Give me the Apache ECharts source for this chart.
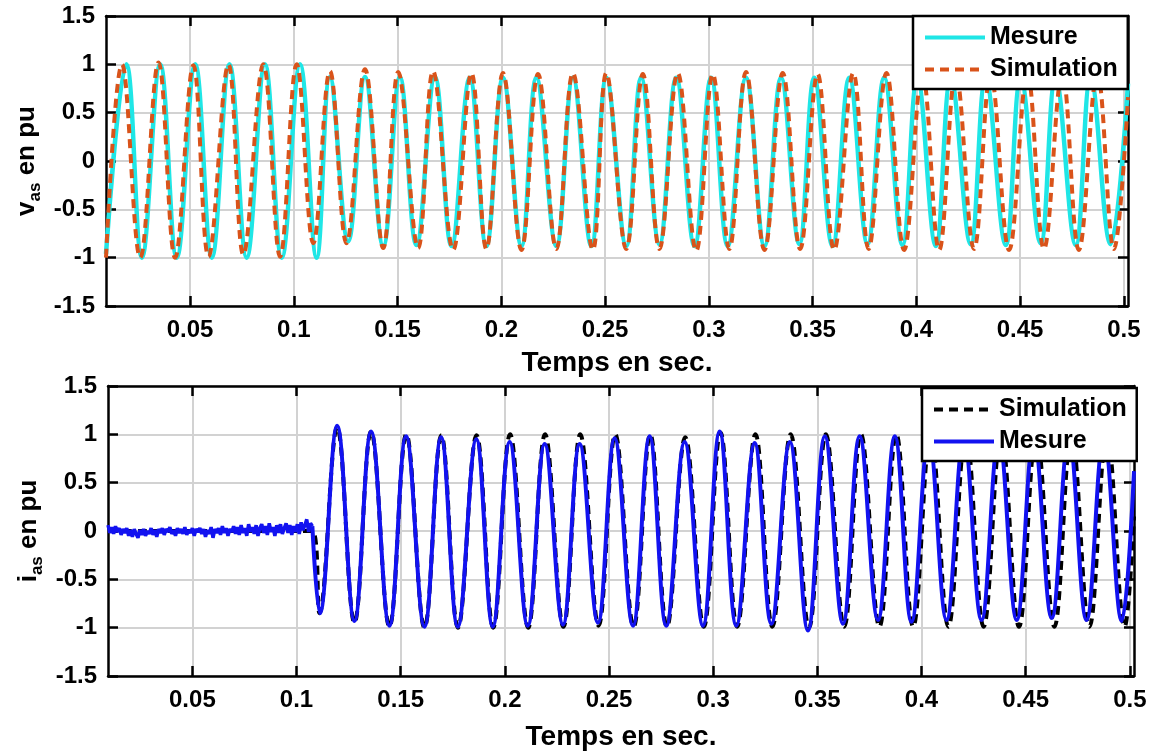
<!DOCTYPE html>
<html>
<head>
<meta charset="utf-8">
<script src="https://cdn.jsdelivr.net/npm/echarts@6/dist/echarts.min.js"></script>
<style>html,body{margin:0;padding:0;background:#fff}#c{width:1152px;height:755px}</style>
</head>
<body>
<div id="c"></div>
<script>
// ---- axis ticks ----
const xTicks = [0.05, 0.1, 0.15, 0.2, 0.25, 0.3, 0.35, 0.4, 0.45, 0.5];
const xMin = 0.0095, xMax = 0.502;
const yMin = -1.5, yMax = 1.5, yStep = 0.5;

// ---- top : v_as (extrema, [t, pu]) ----
const vMesure = [
[0.0095,-0.96],[0.0193,1.0],[0.0268,-1.0],[0.0356,1.0],[0.0436,-1.0],[0.0525,1.0],[0.0605,-1.0],
[0.0690,1.0],[0.0773,-1.0],[0.0861,1.0],[0.0942,-1.0],[0.1030,1.0],[0.1110,-1.0],[0.1174,0.87],
[0.1262,-0.83],[0.1343,0.87],[0.1431,-0.88],[0.1511,0.87],[0.1591,-0.87],[0.1680,0.87],[0.1760,-0.88],
[0.1848,0.86],[0.1928,-0.88],[0.2008,0.86],[0.2097,-0.88],[0.2169,0.86],[0.2265,-0.88],[0.2345,0.86],
[0.2434,-0.88],[0.2506,0.86],[0.2602,-0.88],[0.2674,0.86],[0.2762,-0.86],[0.2843,0.86],[0.2931,-0.88],
[0.3011,0.86],[0.3091,-0.88],[0.3179,0.86],[0.3268,-0.88],[0.3348,0.86],[0.3436,-0.86],[0.3508,0.86],
[0.3596,-0.88],[0.3677,0.86],[0.3765,-0.86],[0.3845,0.86],[0.3933,-0.87],[0.4005,0.86],[0.4094,-0.88],
[0.4166,0.86],[0.4262,-0.86],[0.4334,0.86],[0.4431,-0.87],[0.4503,0.86],[0.4599,-0.85],[0.4671,0.86],
[0.4768,-0.87],[0.4840,0.86],[0.4936,-0.86],[0.5020,0.80]
];
const vSimulation = [
[0.0095,-1.0],[0.0172,1.0],[0.0260,-1.0],[0.0348,1.02],[0.0428,-1.0],[0.0516,0.99],[0.0589,-0.99],
[0.0685,1.0],[0.0757,-0.97],[0.0853,1.0],[0.0934,-0.99],[0.1014,1.0],[0.1094,-0.85],[0.1174,0.93],
[0.1254,-0.85],[0.1343,0.95],[0.1431,-0.90],[0.1503,0.92],[0.1599,-0.90],[0.1671,0.93],[0.1768,-0.92],
[0.1856,0.91],[0.1928,-0.91],[0.2008,0.91],[0.2097,-0.92],[0.2177,0.90],[0.2265,-0.91],[0.2345,0.91],
[0.2441,-0.92],[0.2506,0.91],[0.2602,-0.91],[0.2682,0.90],[0.2762,-0.91],[0.2850,0.91],[0.2939,-0.93],
[0.3019,0.90],[0.3099,-0.91],[0.3179,0.92],[0.3268,-0.92],[0.3356,0.91],[0.3440,-0.91],[0.3524,0.90],
[0.3604,-0.92],[0.3696,0.91],[0.3770,-0.91],[0.3856,0.91],[0.3941,-0.92],[0.4029,0.90],[0.4110,-0.92],
[0.4190,0.90],[0.4278,-0.91],[0.4358,0.90],[0.4447,-0.92],[0.4535,0.90],[0.4615,-0.91],[0.4703,0.90],
[0.4783,-0.92],[0.4872,0.90],[0.4952,-0.91],[0.5020,0.66]
];

// ---- bottom : i_as ----
const iSimulation = [
[0.0095,0],[0.1076,0],[0.1110,-0.85],[0.1195,1.07],[0.1278,-0.95],[0.1358,1.03],[0.1446,-0.99],
[0.1527,1.0],[0.1614,-1.0],[0.1695,0.99],[0.1775,-1.0],[0.1864,0.99],[0.1944,-1.0],[0.2025,1.0],
[0.2112,-1.0],[0.2193,1.0],[0.2281,-0.99],[0.2362,1.0],[0.2450,-0.98],[0.2530,1.0],[0.2618,-0.99],
[0.2698,1.0],[0.2778,-0.99],[0.2866,0.97],[0.2955,-0.99],[0.3035,1.02],[0.3115,-0.99],[0.3203,1.0],
[0.3284,-0.99],[0.3372,1.0],[0.3460,-1.0],[0.3541,1.0],[0.3629,-0.99],[0.3709,1.0],[0.3798,-0.99],
[0.3879,1.0],[0.3960,-0.99],[0.4044,1.0],[0.4129,-0.99],[0.4213,1.0],[0.4298,-0.99],[0.4382,1.0],
[0.4468,-0.99],[0.4551,1.0],[0.4638,-0.99],[0.4720,1.0],[0.4806,-0.99],[0.4890,1.0],[0.4975,-0.99],
[0.5020,0.15]
];
const iMesureBruit = [
[0.0095,0.06],[0.0104,-0.02],[0.0113,0.04],[0.0122,-0.03],[0.0131,0.05],[0.0140,-0.01],[0.0149,0.03],[0.0158,-0.04],[0.0167,0.02],[0.0176,-0.02],
[0.0185,0.03],[0.0194,-0.05],[0.0203,0.01],[0.0212,-0.06],[0.0221,0.02],[0.0230,-0.03],[0.0239,-0.07],[0.0248,0.01],[0.0257,-0.04],[0.0266,0.02],
[0.0275,-0.05],[0.0284,0.00],[0.0293,-0.03],[0.0302,0.03],[0.0311,-0.04],[0.0320,0.01],[0.0329,-0.06],[0.0338,0.02],[0.0347,-0.02],[0.0356,0.03],
[0.0365,-0.04],[0.0374,0.02],[0.0383,-0.01],[0.0392,0.04],[0.0401,-0.03],[0.0410,0.01],[0.0419,-0.05],[0.0428,0.03],[0.0437,-0.02],[0.0446,0.02],
[0.0455,-0.03],[0.0464,0.04],[0.0473,-0.04],[0.0482,0.01],[0.0491,-0.02],[0.0500,0.03],[0.0509,-0.05],[0.0518,0.02],[0.0527,-0.01],[0.0536,0.03],
[0.0545,-0.03],[0.0554,0.02],[0.0563,-0.06],[0.0572,0.01],[0.0581,-0.03],[0.0590,0.04],[0.0599,-0.07],[0.0608,0.02],[0.0617,-0.02],[0.0626,0.03],
[0.0635,-0.04],[0.0644,0.05],[0.0653,-0.02],[0.0662,0.03],[0.0671,-0.05],[0.0680,0.02],[0.0689,-0.01],[0.0698,0.05],[0.0707,-0.03],[0.0716,0.04],
[0.0725,-0.04],[0.0734,0.06],[0.0743,-0.02],[0.0752,0.03],[0.0761,-0.05],[0.0770,0.07],[0.0779,-0.01],[0.0788,0.04],[0.0797,-0.03],[0.0806,0.06],
[0.0815,-0.05],[0.0824,0.03],[0.0833,0.07],[0.0842,-0.02],[0.0851,0.05],[0.0860,-0.04],[0.0869,0.08],[0.0878,-0.01],[0.0887,0.04],[0.0896,-0.05],
[0.0905,0.06],[0.0914,-0.02],[0.0923,0.07],[0.0932,-0.03],[0.0941,0.03],[0.0950,0.08],[0.0959,-0.02],[0.0968,0.06],[0.0977,-0.04],[0.0986,0.05],
[0.0995,-0.01],[0.1004,0.07],[0.1013,-0.03],[0.1022,0.09],[0.1031,0.01],[0.1040,0.06],[0.1049,0.12],[0.1058,-0.01],[0.1067,0.08],[0.1076,0.05]
];
const iMesure = [
[0.1076,0.05],[0.1112,-0.85],[0.1195,1.09],[0.1278,-0.93],[0.1358,1.03],[0.1446,-0.98],[0.1526,0.98],
[0.1614,-0.99],[0.1694,0.97],[0.1774,-0.99],[0.1863,0.95],[0.1942,-0.99],[0.2023,0.92],[0.2110,-0.98],
[0.2191,0.90],[0.2279,-0.97],[0.2359,0.90],[0.2447,-0.95],[0.2527,0.96],[0.2615,-0.98],[0.2695,0.98],
[0.2775,-0.98],[0.2863,0.92],[0.2951,-0.98],[0.3031,1.03],[0.3111,-0.98],[0.3199,0.91],[0.3279,-0.96],
[0.3368,0.92],[0.3455,-1.03],[0.3536,0.98],[0.3623,-0.96],[0.3703,0.98],[0.3791,-0.92],[0.3872,0.98],
[0.3952,-0.94],[0.4035,0.97],[0.4120,-0.92],[0.4203,0.97],[0.4288,-0.92],[0.4371,0.97],[0.4457,-0.92],
[0.4539,0.97],[0.4625,-0.90],[0.4707,0.97],[0.4792,-0.92],[0.4875,0.97],[0.4961,-0.93],[0.5020,0.62]
];

// ---- styling ----
const FF = '"Liberation Sans", Arial, Helvetica, sans-serif';
const axisCol = '#000';
const gridCol = '#d2d2d2';

function xBottom(gi, gap) {
  return {
    gridIndex: gi, type: 'value', min: xMin, max: xMax, position: 'bottom',
    axisLine: { show: true, onZero: false, lineStyle: { color: axisCol, width: 2.5 } },
    axisTick: { show: true, inside: true, length: 10, customValues: xTicks, lineStyle: { color: axisCol, width: 2.5 } },
    axisLabel: { show: true, customValues: xTicks, margin: 12, color: '#000', fontSize: 24, fontWeight: 'bold', fontFamily: FF,
                 formatter: v => String(+(+v).toFixed(2)) },
    splitLine: { show: true, lineStyle: { color: gridCol, width: 2 } },
    name: 'Temps en sec.', nameLocation: 'middle', nameGap: gap, nameMoveOverlap: false,
    nameTextStyle: { color: '#000', fontSize: 28, fontWeight: 'bold', fontFamily: FF }
  };
}
function xTop(gi) {
  return {
    gridIndex: gi, type: 'value', min: xMin, max: xMax, position: 'top',
    axisLine: { show: true, onZero: false, lineStyle: { color: axisCol, width: 2.5 } },
    axisTick: { show: true, inside: true, length: 10, customValues: xTicks, lineStyle: { color: axisCol, width: 2.5 } },
    axisLabel: { show: false }, splitLine: { show: false }
  };
}
function yLeft(gi, letter) {
  return {
    gridIndex: gi, type: 'value', min: yMin, max: yMax, interval: yStep, position: 'left',
    axisLine: { show: true, onZero: false, lineStyle: { color: axisCol, width: 2.5 } },
    axisTick: { show: true, inside: true, length: 10, lineStyle: { color: axisCol, width: 2.5 } },
    axisLabel: { show: true, margin: 11, color: '#000', fontSize: 24, fontWeight: 'bold', fontFamily: FF },
    splitLine: { show: true, lineStyle: { color: gridCol, width: 2 } },
    name: '{a|' + letter + '}{b|as}{a| en pu}', nameLocation: 'middle', nameGap: 62, nameRotate: 90, nameMoveOverlap: false,
    nameTextStyle: {
      color: '#000',
      rich: {
        a: { fontSize: 26, fontWeight: 'bold', fontFamily: FF, color: '#000', lineHeight: 34 },
        b: { fontSize: 17, fontWeight: 'bold', fontFamily: FF, color: '#000', lineHeight: 20, verticalAlign: 'bottom' }
      }
    }
  };
}
function yRight(gi) {
  return {
    gridIndex: gi, type: 'value', min: yMin, max: yMax, interval: yStep, position: 'right',
    axisLine: { show: true, onZero: false, lineStyle: { color: axisCol, width: 2.5 } },
    axisTick: { show: true, inside: true, length: 10, lineStyle: { color: axisCol, width: 2.5 } },
    axisLabel: { show: false }, splitLine: { show: false }
  };
}
function legendBox(left, top, names, padRight) {
  return {
    data: names, left: left, top: top, orient: 'vertical', selectedMode: false,
    padding: [9, padRight, 7, 10], itemGap: 7, itemWidth: 60, itemHeight: 14,
    borderColor: '#000', borderWidth: 2.5, borderRadius: 0, backgroundColor: '#fff',
    itemStyle: { color: 'rgba(0,0,0,0)', borderColor: 'rgba(0,0,0,0)', borderWidth: 0, opacity: 0 },
    lineStyle: { width: 4 },
    textStyle: { color: '#000', fontSize: 25, fontWeight: 'bold', fontFamily: FF }
  };
}
function line(name, data, xi, yi, color, width, dash, z) {
  return {
    type: 'line', name: name, data: data, xAxisIndex: xi, yAxisIndex: yi,
    symbol: 'none', showSymbol: false, smooth: dash === 'noise' ? false : 0.4,
    lineStyle: { color: color, width: width, type: (dash && dash !== 'noise') ? dash : 'solid' },
    itemStyle: { color: color }, z: z, animation: false, silent: true
  };
}

const CYAN = '#1fe6e6', ORANGE = '#d9531a', BLUE = '#1212f0', BLACK = '#000';

const option = {
  animation: false,
  backgroundColor: '#fff',
  grid: [
    { left: 106, top: 16, width: 1022, height: 290, outerBoundsMode: 'none' },
    { left: 108, top: 386, width: 1026, height: 290, outerBoundsMode: 'none' }
  ],
  xAxis: [xBottom(0, 43), xTop(0), xBottom(1, 47), xTop(1)],
  yAxis: [yLeft(0, 'v'), yRight(0), yLeft(1, 'i'), yRight(1)],
  legend: [
    legendBox(913, 16, ['Mesure', 'Simulation'], 10),
    legendBox(922, 388, ['Simulation ', 'Mesure '], 3)
  ],
  series: [
    line('Mesure', vMesure, 0, 0, CYAN, 4.5, null, 2),
    line('Simulation', vSimulation, 0, 0, ORANGE, 4, [9, 6], 3),
    line('Simulation ', iSimulation, 2, 2, BLACK, 4, [9, 6], 2),
    line('Mesure ', iMesureBruit, 2, 2, BLUE, 3.5, 'noise', 3),
    line('Mesure ', iMesure, 2, 2, BLUE, 4, null, 3)
  ]
};
const chart = echarts.init(document.getElementById('c'), null, { renderer: 'canvas' });
chart.setOption(option);
</script>
</body>
</html>
